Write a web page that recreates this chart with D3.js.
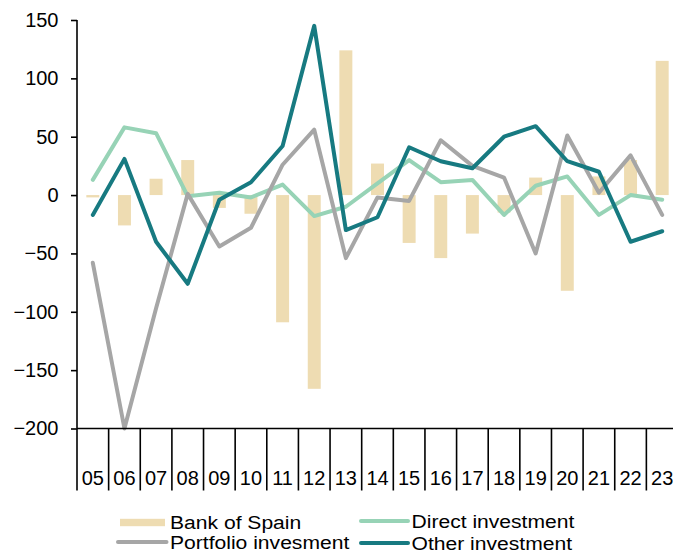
<!DOCTYPE html>
<html>
<head>
<meta charset="utf-8">
<script src="https://cdn.jsdelivr.net/npm/d3@7"></script>
<style>
  html, body { margin: 0; padding: 0; background: #fff; }
  svg { display: block; font-family: "Liberation Sans", Arial, sans-serif; }
</style>
</head>
<body>
<svg id="chart" width="673" height="555"></svg>
<script>
// Years (two-digit labels)
const years = ["05","06","07","08","09","10","11","12","13","14","15","16","17","18","19","20","21","22","23"];

// Series values (EUR bn)
const bankOfSpain = [-2, -26, 14, 30, -11, -16, -109, -166, 124, 27, -41, -54, -33, -15, 15, -82, 16, 30, 115];
const directInvestment = [13, 58, 53, -1, 2, -2, 9, -18, -10, 10, 30, 11, 13, -17, 8, 16, -17, 0, -4];
const portfolioInvestment = [-58, -200, -97, 1, -44, -28, 26, 56, -54, -2, -5, 47, 25, 15, -50, 51, 2, 34, -17];
const otherInvestment = [-17, 31, -40, -76, -4, 11, 42, 145, -30, -19, 41, 29, 23, 50, 59, 29, 20, -40, -31];

const yTicks = [-200, -150, -100, -50, 0, 50, 100, 150];

const colors = {
  bank: "#EEDCB2",
  direct: "#97D3B6",
  portfolio: "#A6A6A6",
  other: "#177A81"
};

const svg = d3.select("#chart");
const plotLeft = 77, plotRight = 678, plotTop = 20, plotBottom = 428.5;

const x = d3.scaleBand().domain(years).range([plotLeft, plotRight]).paddingInner(0).paddingOuter(0);
const y = d3.scaleLinear().domain([-200, 150]).range([plotBottom, plotTop]);

// Bars: Bank of Spain
const barW = x.bandwidth() * 0.41;
svg.append("g").selectAll("rect")
  .data(years.map((yr, i) => ({ yr, v: bankOfSpain[i] })))
  .join("rect")
  .attr("x", d => x(d.yr) + x.bandwidth() / 2 - barW / 2)
  .attr("width", barW)
  .attr("y", d => y(Math.max(0, d.v)))
  .attr("height", d => Math.abs(y(d.v) - y(0)))
  .attr("fill", colors.bank);

// Lines
const line = d3.line()
  .x((d, i) => x(years[i]) + x.bandwidth() / 2)
  .y(d => y(d));

[[directInvestment, colors.direct], [portfolioInvestment, colors.portfolio], [otherInvestment, colors.other]]
  .forEach(([vals, col]) => {
    svg.append("path")
      .datum(vals)
      .attr("d", line)
      .attr("fill", "none")
      .attr("stroke", col)
      .attr("stroke-width", 4)
      .attr("stroke-linejoin", "round")
      .attr("stroke-linecap", "round");
  });

// Y axis
const yAxis = svg.append("g")
  .attr("transform", `translate(${plotLeft},0)`)
  .call(d3.axisLeft(y).tickValues(yTicks).tickSize(6).tickPadding(12.5).tickFormat(d3.format("d")));
yAxis.selectAll("path, line").attr("stroke", "#000").attr("stroke-width", 1.6);
yAxis.selectAll("text").attr("font-size", 20).attr("fill", "#000")
  .attr("font-family", "'Liberation Sans', Arial, sans-serif");
yAxis.select(".domain").attr("d", `M0,${plotTop}V${plotBottom}`);

// X axis: baseline, category separators and labels
const xg = svg.append("g").attr("transform", `translate(0,${plotBottom})`);
xg.append("line")
  .attr("x1", plotLeft).attr("x2", plotRight)
  .attr("y1", 0).attr("y2", 0)
  .attr("stroke", "#000").attr("stroke-width", 1.6);
const seps = years.map(d => x(d)).concat([plotRight]);
xg.selectAll("line.sep").data(seps).join("line")
  .attr("class", "sep")
  .attr("x1", d => d).attr("x2", d => d)
  .attr("y1", 0).attr("y2", 62)
  .attr("stroke", "#000").attr("stroke-width", 1.6);
xg.selectAll("text").data(years).join("text")
  .attr("x", d => x(d) + x.bandwidth() / 2)
  .attr("y", 56.5)
  .attr("text-anchor", "middle")
  .attr("font-size", 20)
  .attr("fill", "#000")
  .text(d => d);

// Legend (two rows, slightly widened lettering)
const legendItems = [
  { label: "Bank of Spain", color: colors.bank, type: "rect", sx: 120, tx: 170, cy: 522.5 },
  { label: "Direct investment", color: colors.direct, type: "line", sx: 361, tx: 411.5, cy: 521 },
  { label: "Portfolio invesment", color: colors.portfolio, type: "line", sx: 118, tx: 170, cy: 542 },
  { label: "Other investment", color: colors.other, type: "line", sx: 361, tx: 411.5, cy: 543 }
];
const lg = svg.append("g");
legendItems.forEach(it => {
  if (it.type === "rect") {
    lg.append("rect").attr("x", it.sx).attr("y", it.cy - 3.7).attr("width", 45).attr("height", 7.4).attr("fill", it.color);
  } else {
    lg.append("line").attr("x1", it.sx).attr("x2", it.tx - 3.5)
      .attr("y1", it.cy).attr("y2", it.cy)
      .attr("stroke", it.color).attr("stroke-width", 4).attr("stroke-linecap", "round");
  }
  lg.append("text")
    .attr("transform", `translate(${it.tx},${it.cy + 6.5}) scale(1.11,1)`)
    .attr("font-size", 19).attr("fill", "#000").text(it.label);
});
</script>
</body>
</html>
